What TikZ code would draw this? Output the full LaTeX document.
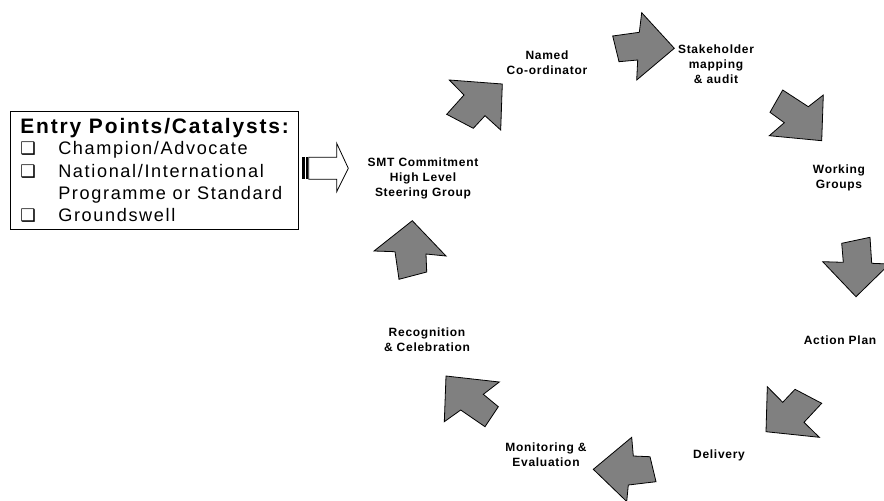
\documentclass[tikz,border=0pt]{standalone}
\usepackage{fontspec}
\setmainfont{Liberation Sans}
\newfontfamily\lblfont[LetterSpace=6]{Liberation Sans}
\newfontfamily\entryfont[LetterSpace=9]{Liberation Sans}
\newfontfamily\symfont{DejaVu Sans}
\definecolor{arrowgray}{HTML}{808080}
\begin{document}
\begin{tikzpicture}[x=0.75pt,y=-0.75pt,
  stage/.style={font=\lblfont\bfseries\fontsize{9}{11.25}\selectfont, align=center, inner sep=0pt},
  cyclearrow/.style={fill=arrowgray, draw=black, line width=0.6pt, line join=miter},
  entryline/.style={font=\entryfont\fontsize{13.6}{16}\selectfont, anchor=base west, inner sep=0pt},
  entrytitle/.style={font=\entryfont\bfseries\fontsize{15.7}{18}\selectfont, anchor=base west, inner sep=0pt},
  tickbox/.style={font=\symfont\fontsize{13}{15}\selectfont, anchor=base west, inner sep=0pt}]
\useasboundingbox (0,0) rectangle (884,500);
\clip (0,0) rectangle (884,500);

% entry points box
\draw[line width=0.6pt] (10,111) rectangle (298,229);
\node[entrytitle] (title) at (20,133) {Entry Points/Catalysts:};
\node[tickbox] (b1) at (20,154) {❑};
\node[entryline] (e1) at (58,154) {Champion/Advocate};
\node[tickbox] (b2) at (20,177) {❑};
\node[entryline] (e2) at (58,177) {National/International};
\node[entryline] (e3) at (58,199) {Programme or Standard};
\node[tickbox] (b3) at (20,221) {❑};
\node[entryline] (e4) at (58,221) {Groundswell};

% striped block arrow into the cycle
\fill (302,157.3) rectangle (304.8,179.3);
\fill (305.8,157.3) rectangle (307.8,179.3);
\draw[line width=0.6pt, fill=white, line join=miter]
  (308.8,157.3) -- (336.7,157.3) -- (336.7,143.3) -- (348.3,168.3)
  -- (336.7,191.7) -- (336.7,179.3) -- (308.8,179.3) -- cycle;

% stage labels
\node[stage] (smt) at (423,178) {SMT Commitment\\High Level\\Steering Group};
\node[stage] (named) at (547,63) {Named\\Co-ordinator};
\node[stage] (stake) at (716,64) {Stakeholder\\mapping\\\& audit};
\node[stage] (work) at (839,178) {Working\\Groups};
\node[stage] (plan) at (840,340) {Action Plan};
\node[stage] (deliv) at (719,455) {Delivery};
\node[stage] (monit) at (546,455) {Monitoring \&\\Evaluation};
\node[stage] (recog) at (427,340) {Recognition\\\& Celebration};

% grey bent arrows around the cycle
\draw[cyclearrow] (449.3,80) -- (502.3,84) -- (500.7,130) -- (485,115.7)
  -- (473.3,128.3) -- (446.7,114.3) -- (464,95) -- cycle;
\draw[cyclearrow] (641.7,12.7) -- (674.3,48.3) -- (636.7,80) -- (637.7,60)
  -- (619,61.7) -- (612.7,36) -- (639.3,32.3) -- cycle;
\draw[cyclearrow] (782.7,90) -- (770,112.3) -- (784.3,122.7) -- (769.3,135.7)
  -- (821.7,140.7) -- (823.3,95) -- (808.3,106.7) -- cycle;
\draw[cyclearrow] (841.7,243.3) -- (870,237.3) -- (871.7,263.3) -- (889.5,264)
  -- (856,296.7) -- (822.7,261.7) -- (843.3,262.3) -- cycle;
\draw[cyclearrow] (767.3,386.7) -- (782.7,402.3) -- (795,389.3) -- (821.7,403.3)
  -- (804,422.3) -- (819.3,437.3) -- (766,431.7) -- cycle;
\draw[cyclearrow] (631.7,437.3) -- (633.3,456) -- (650,456.7) -- (656,481.7)
  -- (628.3,485) -- (626.7,501.5) -- (593.3,469.3) -- cycle;
\draw[cyclearrow] (446,376) -- (499.3,382) -- (483.3,394.3) -- (498.3,406.7)
  -- (485,426.7) -- (460.7,410) -- (444.3,421.7) -- cycle;
\draw[cyclearrow] (412.3,220.7) -- (446,256) -- (426,254) -- (426.7,272)
  -- (399,279.3) -- (395,251.7) -- (374,251) -- cycle;
\end{tikzpicture}
\end{document}
